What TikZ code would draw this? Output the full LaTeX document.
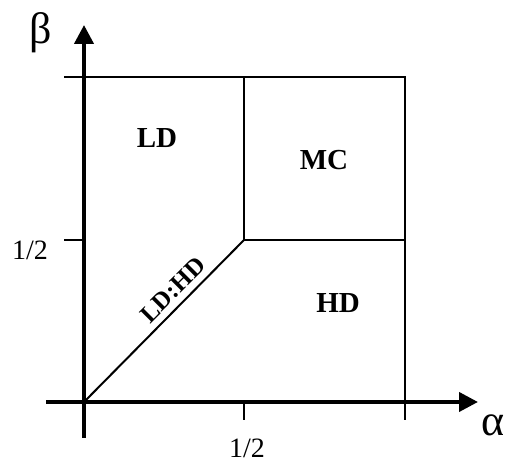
\documentclass[tikz,border=0pt]{standalone}
\usepackage{fontspec}
\setmainfont{Liberation Serif}
\usetikzlibrary{arrows.meta}
\tikzset{
  axis/.style={line width=4pt, -{Triangle[length=19pt,width=19pt]}},
  boundary/.style={line width=1.5pt},
  diag/.style={line width=2pt},
  region/.style={font=\fontsize{29}{31}\selectfont\bfseries, inner sep=0pt},
  slanted label/.style={font=\fontsize{25}{27}\selectfont\bfseries, inner sep=0pt, rotate=45},
  ticklabel/.style={font=\fontsize{28}{30}\selectfont, inner sep=0pt},
  greek/.style={font=\fontsize{44}{46}\selectfont, inner sep=0pt},
}
\begin{document}
\begin{tikzpicture}[x=1pt,y=-1pt]
\useasboundingbox (0,0) rectangle (507,462);
% coordinates
\coordinate (O) at (84,402);
\coordinate (ybot) at (84,438);
\coordinate (ytop) at (84,25);
\coordinate (xleft) at (46,402);
\coordinate (xright) at (478,402);
\coordinate (Mid) at (244,240);
\coordinate (TL) at (64,77);
\coordinate (TR) at (405,77);
\coordinate (TM) at (244,77);
\coordinate (RM) at (405,240);
\coordinate (RB) at (405,420);
\coordinate (YT) at (64,240);
\coordinate (YTe) at (84,240);
\coordinate (XT) at (244,420);
\coordinate (XTe) at (244,402);
% region boundaries
\draw[boundary] (TL) -- (TR) -- (RB);
\draw[boundary] (TM) -- (Mid) -- (RM);
\draw[boundary] (YT) -- (YTe);
\draw[boundary] (XTe) -- (XT);
\draw[diag] (O) -- (Mid);
% axes
\draw[axis] (ybot) -- (ytop);
\draw[axis] (xleft) -- (xright);
% labels
\node[greek] (beta) at (41,33) {β};
\node[greek] (alpha) at (493,425) {α};
\node[ticklabel] (yhalf) at (30,250) {1/2};
\node[ticklabel] (xhalf) at (247,448) {1/2};
\node[region] (LD) at (157,138) {LD};
\node[region] (MC) at (324,160) {MC};
\node[region] (HD) at (338,303) {HD};
\node[slanted label] (LDHD) at (173,290) {LD:HD};
\end{tikzpicture}
\end{document}
